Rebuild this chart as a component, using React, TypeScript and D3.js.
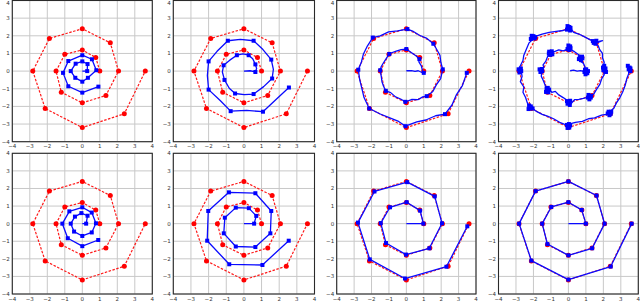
import React from 'react';
import * as d3 from 'd3';

type Pt = [number, number];

// shared axis ticks
const tickValues = [-4, -3, -2, -1, 0, 1, 2, 3, 4];

// target spiral (red dashed)
const redX = [1, 0.77, 0, -1, -1.5, -1.2, 0, 1.35, 2.07, 1.6, 0, -1.88, -2.83, -2.12, 0, 2.4, 3.6];
const redY = [0, 0.77, 1.2, 0.95, 0, -1.2, -1.8, -1.38, 0, 1.6, 2.4, 1.85, 0, -2.12, -3.2, -2.42, 0];

// blue markers, one list per panel
const blue1: Pt[] = [[0.28, 0], [0.3, 0.4], [0, 0.55], [-0.38, 0.42], [-0.66, 0], [-0.4, -0.38], [0, -0.6], [0.32, -0.38], [0.8, 0.05], [0.55, 0.67], [0, 0.9], [-0.8, 0.57], [-1.1, -0.1], [-0.8, -0.86], [0, -1.22], [0.92, -0.88]];
const blue2: Pt[] = [[0.65, -0.05], [0.65, 0.38], [0.27, 0.9], [-0.4, 0.9], [-1.15, 0.33], [-1.1, -0.5], [-0.5, -1.27], [0.55, -1.3], [1.6, -0.42], [1.55, 0.65], [0.55, 1.72], [-0.91, 1.72], [-2, 0.55], [-2, -1.05], [-0.75, -2.27], [1.08, -2.3], [2.55, -0.93]];
const blue3: Pt[] = [[1, -0.1], [0.75, 0.68], [0, 1.25], [-0.98, 0.97], [-1.5, 0.05], [-1.18, -1.12], [-0.06, -1.74], [1.17, -1.42], [2.09, 0.1], [1.55, 1.55], [0.06, 2.38], [-1.93, 1.9], [-2.76, 0.08], [-2.13, -2.12], [-0.05, -3.12], [2.22, -2.44], [3.47, -0.1]];
const blue5: Pt[] = [[0.22, 0], [0.3, 0.45], [-0.05, 0.6], [-0.42, 0.4], [-0.66, 0], [-0.47, -0.45], [0, -0.7], [0.54, -0.5], [0.78, 0.02], [0.54, 0.63], [0, 0.93], [-0.74, 0.7], [-1.14, 0], [-0.83, -0.83], [0, -1.28], [0.91, -0.93]];
const blue6: Pt[] = [[0.58, 0], [0.7, 0.44], [0.28, 0.88], [-0.46, 0.91], [-1.08, 0.34], [-1.14, -0.55], [-0.46, -1.3], [0.65, -1.33], [1.5, -0.55], [1.55, 0.72], [0.65, 1.73], [-0.85, 1.78], [-2.02, 0.72], [-2.08, -0.97], [-0.83, -2.31], [1.05, -2.35], [2.54, -0.97]];
const blue7: Pt[] = [[0.98, 0], [0.79, 0.74], [0.02, 1.22], [-0.94, 0.93], [-1.47, 0.03], [-1.17, -1.1], [-0.02, -1.76], [1.32, -1.4], [2.05, 0.02], [1.63, 1.55], [0.05, 2.36], [-1.83, 1.83], [-2.78, 0.06], [-2.1, -2.03], [-0.08, -3.12], [2.3, -2.45], [3.5, -0.15]];
const blue8: Pt[] = [[1, 0], [0.76, 0.78], [0, 1.22], [-0.98, 0.95], [-1.5, 0], [-1.2, -1.16], [0, -1.8], [1.36, -1.4], [2.07, 0], [1.61, 1.6], [0, 2.4], [-1.88, 1.85], [-2.82, 0], [-2.12, -2.1], [0, -3.18], [2.42, -2.44], [3.62, 0]];

// wobbly trajectories (top row, panels 2-4)
const path2: Pt[] = [[0, 0], [0.35, 0.02], [0.65, -0.05], [0.72, 0.15], [0.65, 0.38], [0.5, 0.7], [0.27, 0.9], [-0.05, 0.97], [-0.4, 0.9], [-0.8, 0.62], [-1.15, 0.33], [-1.22, -0.05], [-1.1, -0.5], [-0.83, -0.97], [-0.5, -1.27], [0.02, -1.33], [0.55, -1.3], [1.12, -0.88], [1.6, -0.42], [1.67, 0.1], [1.55, 0.65], [1.08, 1.22], [0.55, 1.72], [-0.2, 1.8], [-0.91, 1.72], [-1.52, 1.12], [-2, 0.55], [-2.07, -0.25], [-2, -1.05], [-1.33, -1.68], [-0.75, -2.27], [0.15, -2.23], [1.08, -2.3], [1.85, -1.58], [2.55, -0.93]];
const path3: Pt[] = [[0, 0.02], [0.3, 0.03], [0.5, -0.02], [0.68, 0.02], [0.9, -0.08], [1, -0.1], [0.92, 0.05], [0.86, 0.3], [0.72, 0.52], [0.75, 0.68], [0.55, 0.87], [0.32, 1.03], [0.1, 1.18], [0, 1.25], [-0.3, 1.22], [-0.58, 1.13], [-0.85, 1.04], [-0.98, 0.97], [-1.14, 0.74], [-1.32, 0.46], [-1.44, 0.26], [-1.5, 0.05], [-1.44, -0.3], [-1.4, -0.6], [-1.31, -0.86], [-1.18, -1.12], [-0.9, -1.22], [-0.62, -1.46], [-0.33, -1.58], [-0.06, -1.74], [0.3, -1.61], [0.66, -1.62], [0.94, -1.46], [1.17, -1.42], [1.52, -1.16], [1.72, -0.78], [1.97, -0.42], [2.09, 0.1], [1.98, 0.5], [1.93, 0.9], [1.73, 1.25], [1.55, 1.55], [1.15, 1.87], [0.75, 2.03], [0.36, 2.27], [0.06, 2.38], [-0.5, 2.28], [-1.02, 2.22], [-1.5, 2.0], [-1.93, 1.9], [-2.24, 1.42], [-2.47, 0.95], [-2.58, 0.52], [-2.76, 0.08], [-2.68, -0.48], [-2.57, -0.92], [-2.43, -1.5], [-2.13, -2.12], [-1.5, -2.43], [-1.02, -2.62], [-0.48, -2.83], [-0.05, -3.12], [0.6, -2.88], [1.12, -2.77], [1.68, -2.53], [2.22, -2.44], [2.62, -1.92], [2.88, -1.33], [3.22, -0.82], [3.47, -0.1]];

// panel 4: [x, y, marker?]
const path4: [number, number, number][] = [
  [0.1, 0.02, 0], [0.3, 0.05, 0], [0.5, 0, 0], [0.7, 0.03, 0], [0.85, -0.02, 0],
  [0.95, 0.08, 1], [1.08, -0.12, 1], [0.98, -0.18, 1], [1.12, 0, 1], [1.02, 0.1, 1], [0.92, -0.05, 1],
  [0.95, 0.25, 0], [0.85, 0.45, 0], [0.7, 0.55, 0],
  [0.65, 0.78, 1], [0.8, 0.72, 1], [0.72, 0.62, 1], [0.6, 0.68, 1], [0.78, 0.82, 1],
  [0.55, 0.95, 0], [0.35, 1.1, 0], [0.15, 1.2, 0],
  [0.1, 1.4, 1], [-0.05, 1.25, 1], [0.05, 1.2, 1], [0, 1.45, 1], [0.12, 1.3, 1],
  [-0.3, 1.15, 0], [-0.55, 1.2, 0], [-0.8, 1.1, 0],
  [-1.1, 1.1, 1], [-0.92, 0.95, 1], [-1.05, 0.92, 1], [-0.95, 1.12, 1], [-1.12, 1, 1],
  [-1.2, 0.8, 0], [-1.3, 0.55, 0], [-1.45, 0.35, 0], [-1.4, 0.2, 0],
  [-1.65, 0.1, 1], [-1.5, 0, 1], [-1.6, -0.05, 1], [-1.52, 0.12, 1],
  [-1.55, -0.3, 0], [-1.45, -0.5, 0], [-1.35, -0.75, 0], [-1.3, -0.9, 0],
  [-1.25, -1, 1], [-1.15, -1.2, 1], [-1.1, -1.05, 1], [-1.28, -1.18, 1], [-1.18, -0.95, 1],
  [-0.95, -1.2, 0], [-0.75, -1.15, 0], [-0.55, -1.35, 0], [-0.3, -1.5, 0], [-0.15, -1.6, 0],
  [-0.08, -1.7, 1], [0.05, -1.8, 1], [0.1, -1.68, 1], [-0.05, -1.85, 1], [0.08, -1.92, 1],
  [0.35, -1.62, 0], [0.6, -1.6, 0], [0.85, -1.55, 0], [1.05, -1.5, 0],
  [1.15, -1.35, 1], [1.28, -1.5, 1], [1.2, -1.6, 1], [1.3, -1.4, 1], [1.12, -1.5, 1],
  [1.45, -1.3, 0], [1.6, -1.05, 0], [1.8, -0.75, 0], [1.9, -0.45, 0], [2.05, -0.2, 0],
  [2, 0.05, 1], [2.12, 0.15, 1], [2.05, 0.3, 1], [2.15, -0.05, 1], [1.98, 0.2, 1],
  [2.05, 0.5, 0], [1.95, 0.75, 0], [1.95, 1, 0], [1.8, 1.2, 0], [1.7, 1.45, 0],
  [1.45, 1.6, 1], [1.6, 1.72, 1], [1.55, 1.55, 1], [1.75, 1.68, 0], [1.95, 1.72, 0], [1.7, 1.62, 0], [1.4, 1.7, 1],
  [1.2, 1.8, 0], [0.9, 1.95, 0], [0.6, 2.1, 0], [0.3, 2.2, 0],
  [0.05, 2.5, 1], [-0.08, 2.35, 1], [0.1, 2.3, 1], [-0.05, 2.55, 1], [0.12, 2.45, 1],
  [-0.3, 2.3, 0], [-0.7, 2.25, 0], [-1.1, 2.2, 0], [-1.5, 2.1, 0], [-1.8, 2, 0],
  [-2.1, 2, 1], [-1.95, 1.85, 1], [-2.15, 1.82, 1], [-2, 1.98, 1], [-1.9, 1.92, 1],
  [-2.25, 1.6, 0], [-2.4, 1.25, 0], [-2.55, 0.9, 0], [-2.6, 0.6, 0], [-2.75, 0.3, 0],
  [-2.85, 0.1, 1], [-2.7, 0, 1], [-2.8, -0.08, 1], [-2.72, 0.15, 1],
  [-2.65, -0.3, 0], [-2.75, -0.6, 0], [-2.55, -0.9, 0], [-2.6, -1.2, 0], [-2.45, -1.5, 0], [-2.35, -1.8, 0],
  [-2.25, -1.95, 1], [-2.12, -2.1, 1], [-2.28, -2.15, 1], [-2.15, -2, 1], [-2.05, -2.12, 1],
  [-1.8, -2.3, 0], [-1.5, -2.45, 0], [-1.2, -2.55, 0], [-0.85, -2.7, 0], [-0.5, -2.9, 0], [-0.25, -3, 0],
  [-0.08, -3.05, 1], [0.05, -3.2, 1], [0.1, -3.08, 1], [-0.05, -3.22, 1], [0.03, -3, 1],
  [0.4, -2.9, 0], [0.8, -2.85, 0], [1.15, -2.7, 0], [1.5, -2.65, 0], [1.9, -2.5, 0], [2.15, -2.45, 0],
  [2.3, -2.3, 1], [2.42, -2.42, 1], [2.35, -2.5, 1], [2.45, -2.3, 1], [2.25, -2.4, 1],
  [2.6, -2.1, 0], [2.75, -1.8, 0], [2.95, -1.5, 0], [3.1, -1.2, 0], [3.25, -0.8, 0], [3.35, -0.4, 0], [3.45, -0.15, 0],
  [3.45, 0.1, 1], [3.55, 0, 1], [3.5, 0.2, 1], [3.4, 0.3, 1], [3.55, 0.15, 1],
];

const origin: Pt = [0, 0];
const redPts: Pt[] = redX.map((v, i) => [v, redY[i]]);

const cols = [[12.3, 152.3], [173.3, 314.5], [336.7, 476], [498.5, 638.3]];
const rows = [[0.5, 141.7], [153.3, 294]];

interface PanelSpec { path: Pt[]; marks: Pt[] }

const panels: PanelSpec[] = [
  { path: [origin, ...blue1], marks: blue1 },
  { path: path2, marks: blue2 },
  { path: path3, marks: blue3 },
  { path: path4.map(d => [d[0], d[1]] as Pt), marks: path4.filter(d => d[2]).map(d => [d[0], d[1]] as Pt) },
  { path: [origin, ...blue5], marks: blue5 },
  { path: [origin, ...blue6], marks: blue6 },
  { path: [origin, ...blue7], marks: blue7 },
  { path: [origin, ...blue8], marks: blue8 },
];

const fmt = (v: number) => (v < 0 ? '\u2212' + Math.abs(v) : String(v));

const Panel: React.FC<{ spec: PanelSpec; box: number[] }> = ({ spec, box }) => {
  const [x0, x1, y0, y1] = box;
  const x = d3.scaleLinear().domain([-4, 4]).range([x0, x1]);
  const y = d3.scaleLinear().domain([-4, 4]).range([y1, y0]);
  const line = d3.line<Pt>().x(d => x(d[0])).y(d => y(d[1]));
  const sq = 4;
  return (
    <g>
      <rect x={x0} y={y0} width={x1 - x0} height={y1 - y0} fill="#fff" />
      {tickValues.map(t => (
        <g key={t}>
          <line x1={x(t)} x2={x(t)} y1={y0} y2={y1} stroke="#c8c8c8" strokeWidth={1} />
          <line x1={x0} x2={x1} y1={y(t)} y2={y(t)} stroke="#c8c8c8" strokeWidth={1} />
          <text x={x(t)} y={y1 + 6.5} fontSize={5.5} textAnchor="middle" fill="#333" fontFamily="DejaVu Sans">{fmt(t)}</text>
          <text x={x0 - 2.5} y={Math.max(y(t) + 2, 5)} fontSize={5.5} textAnchor="end" fill="#333" fontFamily="DejaVu Sans">{fmt(t)}</text>
        </g>
      ))}
      <path d={line(redPts) || ''} fill="none" stroke="#ff1a1a" strokeWidth={1.2} strokeDasharray="2.5,1.5" />
      {redPts.map((d, i) => (
        <circle key={i} cx={x(d[0])} cy={y(d[1])} r={2.5} fill="#ff0000" />
      ))}
      <path d={line(spec.path) || ''} fill="none" stroke="#0a0aff" strokeWidth={1.3} strokeLinejoin="round" />
      {spec.marks.map((d, i) => (
        <rect key={i} x={x(d[0]) - sq / 2} y={y(d[1]) - sq / 2} width={sq} height={sq} fill="#0000ff" />
      ))}
      <rect x={x0} y={y0} width={x1 - x0} height={y1 - y0} fill="none" stroke="#2a2a2a" strokeWidth={1.1} />
    </g>
  );
};

export default function App() {
  return (
    <div style={{ position: 'absolute', left: 0, top: 0 }}>
      <svg width={640} height={302} style={{ display: 'block', background: '#fff' }}>
        {panels.map((p, i) => {
          const c = cols[i % 4];
          const r = rows[Math.floor(i / 4)];
          return <Panel key={i} spec={p} box={[c[0], c[1], r[0], r[1]]} />;
        })}
      </svg>
    </div>
  );
}
